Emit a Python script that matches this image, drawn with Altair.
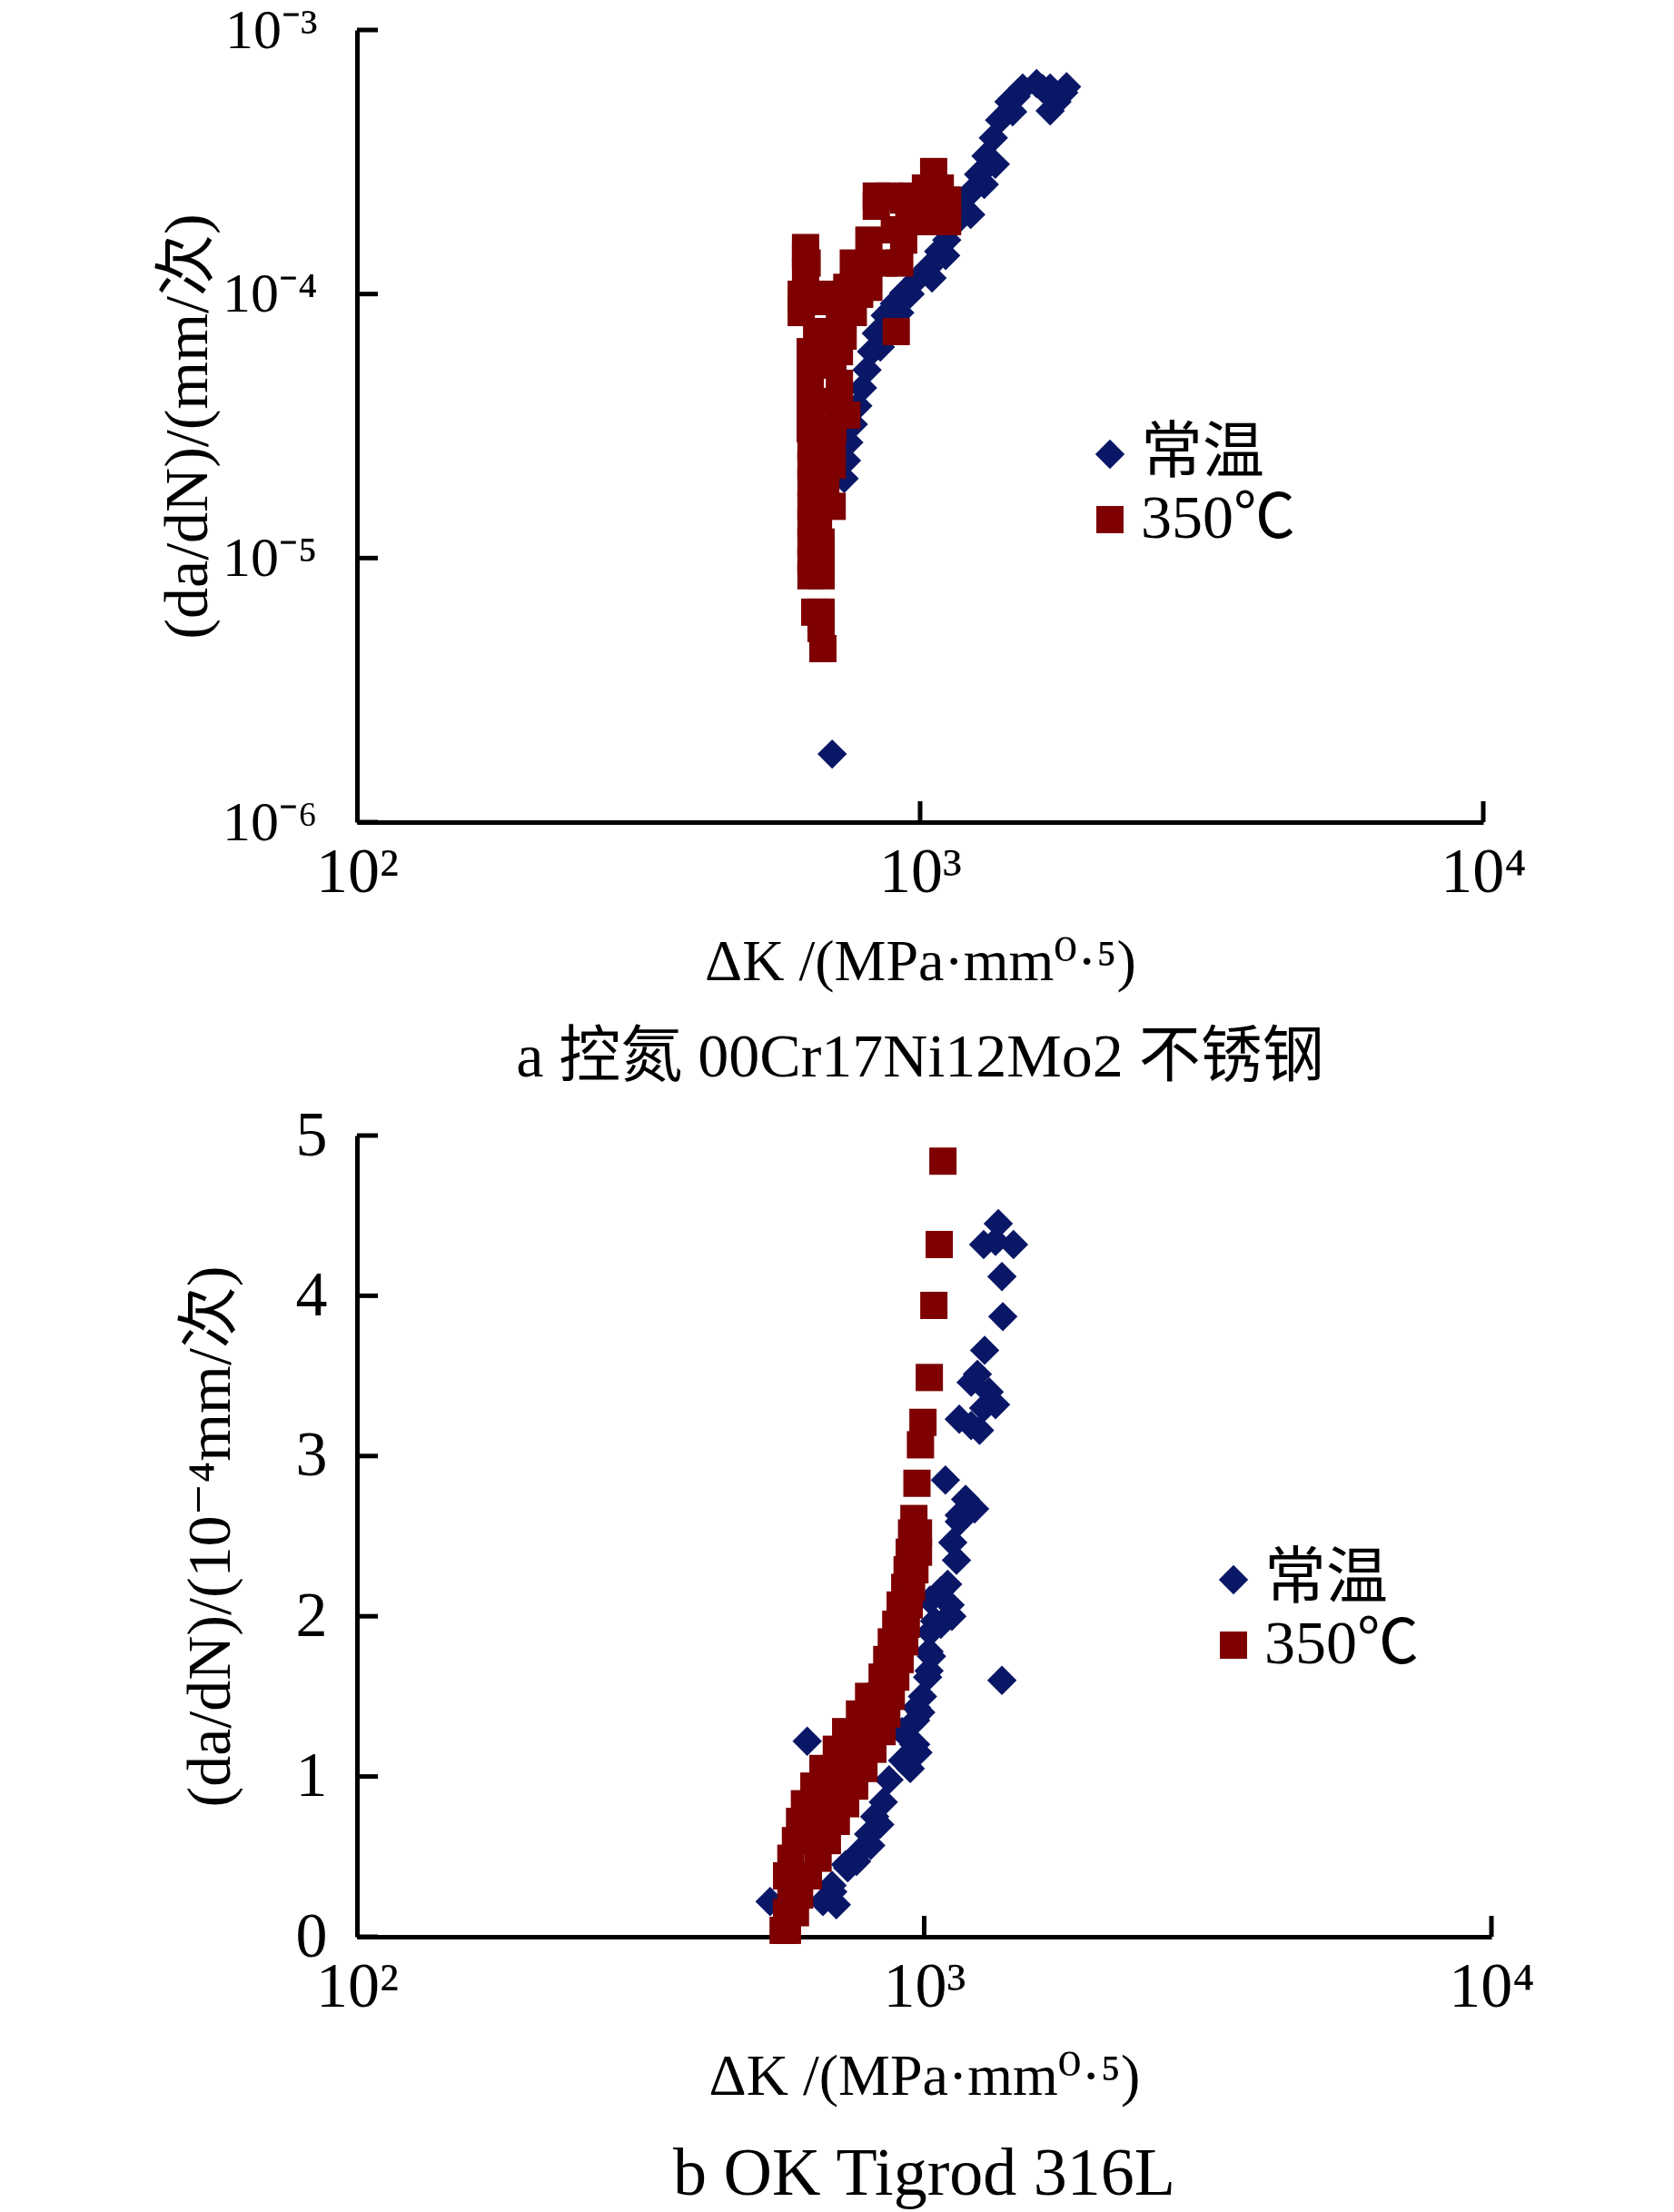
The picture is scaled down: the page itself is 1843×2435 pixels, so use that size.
import altair as alt
import pandas as pd

FONT = "Liberation Serif, DejaVu Serif, Noto Sans CJK SC"
LABEL_FONT = "Liberation Serif, Noto Sans CJK SC"
BLUE = "#0A1766"
RED = "#7E0000"
SERIES = ["常温", "350℃"]

# ---------------- panel a : 控氮 00Cr17Ni12Mo2 ----------------
a_rt_k = [1799, 1702, 1610, 1521, 1702, 1750, 1820, 1650, 1480, 1438, 1460, 1384,
          1349, 1309, 1360, 1270, 1300, 1228, 1191, 1230, 1148, 1115, 1079, 1110,
          1035, 1050, 989, 960, 935, 900, 920, 867, 880, 836, 850, 820, 805, 790,
          775, 761, 747, 740, 733, 698]
a_rt_v = [5.79e-4, 6.03e-4, 6.27e-4, 6.03e-4, 4.94e-4, 5.35e-4, 6.1e-4, 6.0e-4,
          5.6e-4, 5.35e-4, 4.9e-4, 4.56e-4, 3.90e-4, 3.33e-4, 3.1e-4, 2.84e-4,
          2.6e-4, 2.42e-4, 2.10e-4, 2.0e-4, 1.84e-4, 1.60e-4, 1.45e-4, 1.4e-4,
          1.26e-4, 1.15e-4, 1.14e-4, 1.0e-4, 1.01e-4, 9.2e-5, 8.5e-5, 8.3e-5,
          7.3e-5, 7.1e-5, 6.3e-5, 6.05e-5, 5.16e-5, 4.41e-5, 3.77e-5, 3.21e-5,
          2.74e-5, 2.34e-5, 2.0e-5, 1.81e-6]

a_hot_k = [626, 630, 626, 615, 615, 638, 655, 638, 638, 638, 638, 638, 638, 640,
           640, 640, 640, 640, 640, 640, 640,
           680, 700, 741, 781, 761, 719,
           700, 730, 680, 719, 700, 719, 700, 719, 700, 719, 741,
           698, 698, 680, 698, 660, 667, 667, 667,
           650, 667, 667, 667, 672,
           741, 811, 761, 811, 861, 920, 811,
           836, 883, 935, 971, 1007, 1057, 1119, 836,
           955, 1007, 1057, 1119, 1022, 1086, 1057,
           900, 935, 907, 626, 615]
a_hot_v = [1.50e-4, 1.31e-4, 1.21e-4, 9.98e-5, 8.51e-5, 9.36e-5, 7.21e-5, 6.05e-5,
           5.38e-5, 4.59e-5, 3.92e-5, 3.48e-5, 3.09e-5, 2.64e-5, 2.25e-5, 1.92e-5,
           1.57e-5, 1.35e-5, 1.15e-5, 9.8e-6, 8.57e-6,
           9.98e-5, 9.36e-5, 9.36e-5, 9.98e-5, 8.51e-5, 8.51e-5,
           6.93e-5, 6.93e-5, 6.05e-5, 6.05e-5, 5.38e-5, 4.59e-5, 3.92e-5, 3.48e-5,
           3.09e-5, 3.92e-5, 3.48e-5,
           2.64e-5, 2.25e-5, 1.92e-5, 1.57e-5, 1.35e-5, 1.15e-5, 9.8e-6, 8.57e-6,
           6.24e-6, 6.24e-6, 5.9e-6, 5.41e-6, 4.54e-6,
           1.06e-4, 1.06e-4, 1.31e-4, 1.31e-4, 1.31e-4, 1.31e-4, 1.60e-4,
           2.35e-4, 2.35e-4, 2.27e-4, 2.35e-4, 2.3e-4, 2.3e-4, 2.27e-4, 2.15e-4,
           1.88e-4, 1.88e-4, 1.88e-4, 1.88e-4, 2.52e-4, 2.52e-4, 2.91e-4,
           1.75e-4, 1.6e-4, 7.21e-5, 1.40e-4, 9.2e-5]

# ---------------- panel b : OK Tigrod 316L ----------------
b_rt_k = [1351, 1273, 1437, 1336, 1371, 1376, 1278, 1241, 1210, 1302, 1336, 1273,
          1153, 1210, 1252, 1090, 1183, 1227, 1153, 1371,
          1153, 1123, 1140, 1071, 1111, 1043, 1020, 1020, 993, 969, 959, 914, 867,
          847, 818, 798, 769, 733, 688, 663, 622, 535,
          1024, 1119, 1070, 1024, 1100, 1014, 1030, 966, 986, 975,
          835, 805, 727, 760, 690, 700, 916, 945, 966]
b_rt_v = [4.45, 4.32, 4.32, 4.34, 4.12, 3.87, 3.66, 3.51, 3.46, 3.40, 3.32, 3.30,
          3.23, 3.19, 3.16, 2.85, 2.73, 2.67, 2.63, 1.60,
          2.59, 2.46, 2.35, 2.16, 2.07, 1.97, 1.78, 1.66, 1.50, 1.43, 1.20, 1.28,
          0.98, 0.84, 0.75, 0.64, 0.53, 0.43, 0.32, 0.22, 1.22, 0.22,
          2.10, 2.00, 1.95, 1.90, 2.20, 1.62, 1.75, 1.35, 1.40, 1.15,
          0.70, 0.57, 0.45, 0.47, 0.28, 0.20, 1.10, 1.05, 1.20]

b_hot_k = [1079, 1063, 1040, 1021, 995, 985, 971, 959,
           950, 977, 941, 977, 933, 963, 924, 950, 907, 941, 891, 930, 875, 924,
           859, 907, 843, 891, 798, 875, 769, 859, 727, 843, 700, 812, 663, 783,
           639, 754, 615, 727, 603, 700, 593, 675, 582, 650, 572, 625, 582, 603,
           572, 593, 564, 574,
           835, 812, 785, 754, 720, 693, 667, 650, 632]
b_hot_v = [4.84, 4.32, 3.94, 3.49, 3.21, 3.07, 2.83, 2.61,
           2.52, 2.52, 2.40, 2.40, 2.29, 2.29, 2.18, 2.18, 2.07, 2.07, 1.95, 1.95,
           1.84, 1.84, 1.73, 1.73, 1.62, 1.62, 1.50, 1.50, 1.39, 1.39, 1.28, 1.28,
           1.17, 1.17, 1.05, 1.05, 0.94, 0.94, 0.83, 0.83, 0.72, 0.72, 0.60, 0.60,
           0.49, 0.49, 0.38, 0.38, 0.26, 0.26, 0.15, 0.15, 0.04, 0.04,
           1.50, 1.39, 1.28, 1.17, 1.05, 0.94, 0.83, 0.72, 0.60]

x_ticks = [100, 1000, 10000]
a_y_ticks = [1e-6, 1e-5, 1e-4, 1e-3]
b_y_ticks = [0, 1, 2, 3, 4, 5]


def frame(k1, v1, k2, v2):
    return pd.concat([
        pd.DataFrame({"k": k1, "v": v1, "s": SERIES[0]}),
        pd.DataFrame({"k": k2, "v": v2, "s": SERIES[1]}),
    ], ignore_index=True)


X_LABELS = "datum.value == 100 ? '10²' : datum.value == 1000 ? '10³' : '10⁴'"
A_Y_LABELS = ("datum.value < 5e-6 ? '10⁻⁶' : datum.value < 5e-5 ? '10⁻⁵' : "
              "datum.value < 5e-4 ? '10⁻⁴' : '10⁻³'")


def panel(df, ytype, ydomain, yticks, ylabel_expr, ytitle, caption, cap_size,
          width, height, leg_x, leg_y, y_title_pad, y_label_pad, y_label_size):
    xscale = alt.Scale(type="log", domain=[100, 10000], nice=False)
    if ytype == "log":
        yscale = alt.Scale(type="log", domain=ydomain, nice=False)
    else:
        yscale = alt.Scale(type="linear", domain=ydomain, nice=False, zero=True)
    yaxis_kwargs = dict(values=yticks, title=ytitle, labelPadding=y_label_pad,
                        titlePadding=y_title_pad, titleFontSize=68,
                        labelFontSize=y_label_size)
    if ylabel_expr:
        yaxis_kwargs["labelExpr"] = ylabel_expr
    xaxis = alt.Axis(values=x_ticks, labelExpr=X_LABELS,
                     title="ΔK /(MPa·mm⁰·⁵)", labelPadding=21, titlePadding=32)
    yaxis = alt.Axis(**yaxis_kwargs)
    pts = alt.Chart(df).mark_point(filled=True, opacity=1, strokeWidth=0,
                                   clip=False).encode(
        x=alt.X("k:Q", scale=xscale, axis=xaxis),
        y=alt.Y("v:Q", scale=yscale, axis=yaxis),
        color=alt.Color("s:N", scale=alt.Scale(domain=SERIES, range=[BLUE, RED]),
                        legend=alt.Legend(title=None, orient="none", legendX=leg_x,
                                          legendY=leg_y)),
        shape=alt.Shape("s:N", scale=alt.Scale(domain=SERIES,
                                               range=["diamond", "square"]),
                        legend=alt.Legend(title=None, orient="none", legendX=leg_x,
                                          legendY=leg_y)),
        size=alt.Size("s:N", scale=alt.Scale(domain=SERIES, range=[1050, 900]),
                      legend=None),
    )
    xt = alt.Chart(pd.DataFrame({"t": x_ticks[1:]})).mark_rule(
        color="black", strokeWidth=5).encode(
        x=alt.X("t:Q", scale=xscale, axis=xaxis),
        y=alt.value(height), y2=alt.value(height - 23))
    yt = alt.Chart(pd.DataFrame({"t": yticks})).mark_rule(
        color="black", strokeWidth=5).encode(
        y=alt.Y("t:Q", scale=yscale, axis=yaxis),
        x=alt.value(0), x2=alt.value(23))
    return alt.layer(pts, xt, yt).properties(
        width=width, height=height,
        title=alt.TitleParams(caption, orient="bottom", fontSize=cap_size, font=FONT,
                              fontWeight="normal", color="black", offset=40),
    )


pa = panel(frame(a_rt_k, a_rt_v, a_hot_k, a_hot_v), "log", [1e-6, 1e-3], a_y_ticks,
           A_Y_LABELS, "(da/dN)/(mm/次)", "a  控氮 00Cr17Ni12Mo2 不锈钢", 68,
           1240, 872, 795, 433, 3, 44, 62)
pb = panel(frame(b_rt_k, b_rt_v, b_hot_k, b_hot_v), "linear", [0, 5], b_y_ticks,
           None, "(da/dN)/(10⁻⁴mm/次)", "b  OK Tigrod 316L", 74,
           1249, 882, 931, 455, 59, 33, 70)

chart = alt.concat(pa, pb, columns=1, align="none", spacing=16).properties(
    padding={"left": 165, "top": -6, "right": 10, "bottom": 10}
).resolve_legend(color="independent", shape="independent", size="independent"
).configure_view(stroke=None).configure_axis(
    domainColor="black", domainWidth=5, ticks=False, tickSize=0, grid=False,
    labelFont=LABEL_FONT, labelFontSize=70, labelColor="black", labelOverlap=False,
    labelFlush=False, titleFont=FONT, titleFontSize=64, titleFontWeight="normal",
    titleColor="black",
).configure_legend(
    labelFont=LABEL_FONT, labelFontSize=68, labelColor="black", symbolSize=950,
    symbolStrokeWidth=0, labelOffset=0, rowPadding=4, symbolOpacity=1,
    labelLimit=500,
).configure_point(opacity=1)

chart.save("out.html", embed_options={"renderer": "svg", "actions": False})
